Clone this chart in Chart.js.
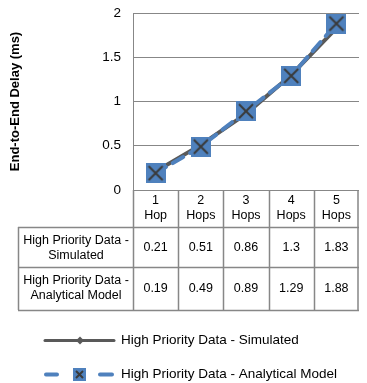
<!DOCTYPE html>
<html>
<head>
<meta charset="utf-8">
<script src="https://cdn.jsdelivr.net/npm/chart.js@4.4.1/dist/chart.umd.min.js"></script>
<style>
    body { margin: 0; background: #fff; }
    #wrap { width: 367px; height: 383px; }
</style>
</head>
<body>
<div id="wrap"><canvas id="delayChart" width="367" height="383"></canvas></div>
<script>
// values
var hopLabels = [["1", "Hop"], ["2", "Hops"], ["3", "Hops"], ["4", "Hops"], ["5", "Hops"]];
var simulatedName = "High Priority Data - Simulated";
var analyticalName = "High Priority Data - Analytical Model";
var simulatedRowLabel = ["High Priority Data -", "Simulated"];
var analyticalRowLabel = ["High Priority Data -", "Analytical Model"];
var simulatedVals = [0.21, 0.51, 0.86, 1.3, 1.83];
var analyticalVals = [0.19, 0.49, 0.89, 1.29, 1.88];
var yTicks = [0, 0.5, 1, 1.5, 2];

var fontFam = "'Liberation Sans', Arial, sans-serif";
var grayLine = "#595959";
var blueLine = "#4f81bd";
var gridColor = "#878787";

// blue square with dark cross, like the excel marker
function crossMarker(size) {
    var c = document.createElement("canvas");
    c.width = size;
    c.height = size;
    var g = c.getContext("2d");
    g.fillStyle = blueLine;
    g.fillRect(0, 0, size, size);
    g.strokeStyle = "#3a3a3a";
    g.lineWidth = size > 12 ? 2 : 2.5;
    var m = size > 12 ? 3 : 1.5;
    g.beginPath();
    g.moveTo(m, m);
    g.lineTo(size - m, size - m);
    g.moveTo(size - m, m);
    g.lineTo(m, size - m);
    g.stroke();
    return c;
}

var bigMarker = crossMarker(20);
var smallMarker = crossMarker(13);

// draws the data table under the plot and the legend
var tablePlugin = {
    id: "dataTable",
    afterDraw: function(chart) {
        var ctx = chart.ctx;
        var area = chart.chartArea;
        var xs = chart.scales.x;
        var n = hopLabels.length;
        var colW = (area.right - area.left) / n;
        var top = area.bottom;
        var rowH = [37, 40, 43];
        var y1 = top + rowH[0];
        var y2 = y1 + rowH[1];
        var y3 = y2 + rowH[2];
        var labelLeft = 18;

        ctx.save();
        ctx.strokeStyle = gridColor;
        ctx.lineWidth = 1.5;
        ctx.beginPath();
        // horizontal lines
        [y1, y2, y3].forEach(function(y) {
            ctx.moveTo(labelLeft, Math.round(y) + 0.5);
            ctx.lineTo(area.right, Math.round(y) + 0.5);
        });
        // vertical lines
        for (var i = 0; i <= n; i++) {
            var x = Math.round(area.left + i * colW) - (i == n ? 1 : -0.5);
            ctx.moveTo(x, top);
            ctx.lineTo(x, y3);
        }
        ctx.moveTo(labelLeft + 0.5, y1);
        ctx.lineTo(labelLeft + 0.5, y3);
        ctx.stroke();

        ctx.fillStyle = "#000";
        ctx.font = "12.5px " + fontFam;
        ctx.textAlign = "center";
        ctx.textBaseline = "middle";
        for (var j = 0; j < n; j++) {
            var cx = xs.getPixelForValue(j);
            ctx.fillText(hopLabels[j][0], cx, top + 11);
            ctx.fillText(hopLabels[j][1], cx, top + 26);
            ctx.fillText(String(simulatedVals[j]), cx, y1 + rowH[1] / 2 + 1);
            ctx.fillText(String(analyticalVals[j]), cx, y2 + rowH[2] / 2);
        }
        var lx = (labelLeft + area.left) / 2 + 0.5;
        ctx.fillText(simulatedRowLabel[0], lx, y1 + 14);
        ctx.fillText(simulatedRowLabel[1], lx, y1 + 29);
        ctx.fillText(analyticalRowLabel[0], lx, y2 + 14);
        ctx.fillText(analyticalRowLabel[1], lx, y2 + 29);

        // legend
        var ly1 = 340.5, ly2 = 374.5;
        ctx.lineCap = "round";
        ctx.strokeStyle = grayLine;
        ctx.lineWidth = 3;
        ctx.beginPath();
        ctx.moveTo(45, ly1);
        ctx.lineTo(114, ly1);
        ctx.stroke();
        ctx.fillStyle = grayLine;
        ctx.beginPath();
        ctx.moveTo(80, ly1 - 4);
        ctx.lineTo(84, ly1);
        ctx.lineTo(80, ly1 + 4);
        ctx.lineTo(76, ly1);
        ctx.closePath();
        ctx.fill();

        ctx.strokeStyle = blueLine;
        ctx.lineWidth = 4;
        ctx.beginPath();
        ctx.moveTo(46, ly2);
        ctx.lineTo(57, ly2);
        ctx.moveTo(100, ly2);
        ctx.lineTo(112, ly2);
        ctx.stroke();
        ctx.drawImage(smallMarker, 73, ly2 - 6.5);

        ctx.fillStyle = "#000";
        ctx.textAlign = "left";
        ctx.font = "13.5px " + fontFam;
        ctx.fillText(simulatedName, 121, ly1);
        ctx.fillText(analyticalName, 121, ly2);
        ctx.restore();
    }
};

var chartSelector = document.getElementById("delayChart");

var delayChart = new Chart(chartSelector, {
    type: "line",
    data: {
        labels: hopLabels,
        datasets: [
            {
                label: simulatedName,
                data: simulatedVals,
                borderColor: grayLine,
                backgroundColor: grayLine,
                borderWidth: 4,
                pointStyle: "rectRot",
                pointRadius: 4,
                pointBorderWidth: 0,
                tension: 0,
                order: 1
            },
            {
                label: analyticalName,
                data: analyticalVals,
                borderColor: blueLine,
                backgroundColor: blueLine,
                borderWidth: 4,
                borderDash: [12, 8],
                borderCapStyle: "round",
                pointStyle: bigMarker,
                tension: 0,
                order: 0
            }
        ]
    },
    options: {
        responsive: false,
        animation: false,
        devicePixelRatio: 1,
        layout: {
            padding: { top: 13, right: 0, bottom: 193, left: 0 }
        },
        plugins: {
            legend: { display: false },
            tooltip: { enabled: false }
        },
        scales: {
            x: {
                type: "category",
                offset: true,
                display: false
            },
            y: {
                min: 0,
                max: 2,
                afterBuildTicks: function(scale) {
                    scale.ticks = yTicks.map(function(v) { return { value: v }; });
                },
                afterFit: function(scale) {
                    scale.width = 133;
                    scale.paddingTop = 0;
                    scale.paddingBottom = 0;
                },
                ticks: {
                    color: "#000",
                    padding: 12,
                    font: { family: fontFam, size: 13.5 },
                    callback: function(value) { return String(value); }
                },
                grid: {
                    color: gridColor,
                    lineWidth: 1,
                    drawTicks: false
                },
                border: { color: gridColor, width: 1 },
                title: {
                    display: true,
                    text: "End-to-End Delay (ms)",
                    color: "#000",
                    padding: { top: 8, bottom: 0 },
                    font: { family: fontFam, size: 13, weight: "bold" }
                }
            }
        }
    },
    plugins: [tablePlugin]
});
</script>
</body>
</html>
